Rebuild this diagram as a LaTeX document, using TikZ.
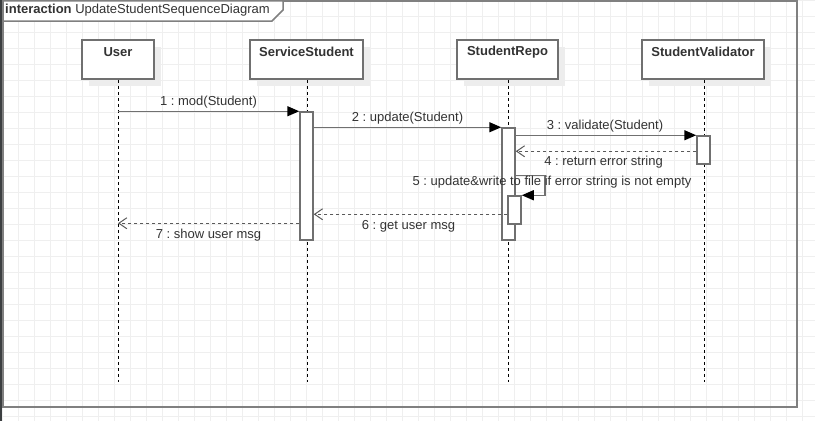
\documentclass[tikz,border=0pt]{standalone}
\usepackage{fontspec}
\setmainfont{Liberation Sans}
\usetikzlibrary{arrows.meta,calc}
\frenchspacing

\definecolor{gridc}{HTML}{EFEFEF}
\definecolor{linec}{HTML}{707070}
\definecolor{replyc}{HTML}{5A5A5A}
\definecolor{framec}{HTML}{808080}
\definecolor{txt}{HTML}{333333}
\definecolor{shadec}{HTML}{EDEDED}
\definecolor{edgec}{HTML}{3C3F41}

\tikzset{
  gridline/.style={draw=gridc, line width=1pt},
  lifebox/.style={draw=linec, line width=1.5pt, fill=white, inner sep=0pt,
    minimum height=39pt},
  boxshadow/.style={fill=shadec, draw=none, inner sep=0pt, minimum height=39pt},
  boxtitle/.style={font=\fontsize{13}{15}\selectfont\bfseries, text=txt, inner sep=0pt},
  lifeline/.style={draw=black, line width=1pt, dash pattern=on 3pt off 3pt},
  activation/.style={draw=linec, line width=1.5pt, fill=white, inner sep=0pt,
    minimum width=13pt},
  msg/.style={draw=linec, line width=1.5pt,
    -{Triangle[length=12pt,width=10pt,fill=black,color=black]}},
  reply/.style={draw=replyc, line width=1.4pt, dash pattern=on 3pt off 3pt,
    -{Straight Barb[length=8pt,width=11pt,line width=1pt]}},
  msglabel/.style={font=\fontsize{13}{15}\selectfont, text=txt, inner sep=0pt},
}

\begin{document}
\begin{tikzpicture}[x=1pt, y=-1pt]
  \useasboundingbox (0,0) rectangle (815,421);
  \fill[white] (0,0) rectangle (815,421);

  % background grid
  \foreach \gx in {2.5,18.5,...,815} {\draw[gridline] (\gx,0) -- (\gx,421);}
  \foreach \gy in {0.5,16.5,...,421} {\draw[gridline] (0,\gy) -- (815,\gy);}

  % window edge
  \fill[edgec] (0,0) rectangle (2,421);

  % interaction frame
  \draw[draw=framec, line width=1.5pt] (3,0.75) rectangle (797,407);
  \draw[draw=framec, line width=1.5pt, fill=white]
    (3,0.75) -- (3,21) -- (272,21) -- (283,10) -- (283,0.75) -- cycle;
  \node[msglabel, anchor=west] (frametitle) at (5,10.5)
    {\textbf{interaction} UpdateStudentSequenceDiagram};

  % lifeline heads (with drop shadows)
  \node[boxshadow, minimum width=72pt]  at (125,66.5)   {};
  \node[boxshadow, minimum width=113pt] at (313.5,66.5) {};
  \node[boxshadow, minimum width=101pt] at (514.5,66.5) {};
  \node[boxshadow, minimum width=122pt] at (710,66.5)   {};

  \node[lifebox, minimum width=72pt]  (user) at (118,59.5)   {};
  \node[lifebox, minimum width=113pt] (svc)  at (306.5,59.5) {};
  \node[lifebox, minimum width=101pt] (repo) at (507.5,59.5) {};
  \node[lifebox, minimum width=122pt] (val)  at (703,59.5)   {};

  \node[boxtitle] (userT) at ($(user.north)+(0,12.5)$) {User};
  \node[boxtitle] (svcT)  at ($(svc.north)+(0,12.5)$)  {ServiceStudent};
  \node[boxtitle] (repoT) at ($(repo.north)+(0,12.5)$) {StudentRepo};
  \node[boxtitle] (valT)  at ($(val.north)+(0,12.5)$)  {StudentValidator};

  % lifelines
  \coordinate (userEnd) at (118,382);
  \coordinate (svcEnd)  at (307,382);
  \coordinate (repoEnd) at (508,382);
  \coordinate (valEnd)  at (704,382);
  \draw[lifeline] (user.south -| userEnd) -- (userEnd);
  \draw[lifeline] (svc.south -| svcEnd)   -- (svcEnd);
  \draw[lifeline] (repo.south -| repoEnd) -- (repoEnd);
  \draw[lifeline] (val.south -| valEnd)   -- (valEnd);

  % activation bars
  \node[activation, minimum height=128pt] (aSvc)   at (306.5,176) {};
  \node[activation, minimum height=112pt] (aRepo)  at (508.5,184) {};
  \node[activation, minimum height=28pt]  (aVal)   at (703.5,150) {};
  \node[activation, minimum height=28pt]  (aRepo2) at (514.5,210) {};

  % 1 : mod(Student)
  \draw[msg] (aSvc.north west -| userEnd) -- (aSvc.north west);
  \node[msglabel] (l1) at (208.5,102) {1 : mod(Student)};

  % 2 : update(Student)
  \draw[msg] (aRepo.north west -| aSvc.east) -- (aRepo.north west);
  \node[msglabel] (l2) at (407.5,118) {2 : update(Student)};

  % 3 : validate(Student)
  \draw[msg] (aVal.north west -| aRepo.east) -- (aVal.north west);
  \node[msglabel] (l3) at (605,126) {3 : validate(Student)};

  % 4 : return error string
  \coordinate (r4) at ($(aVal.north west)+(0,16)$);
  \draw[reply] (r4) -- (r4 -| aRepo.east);
  \node[msglabel] (l4) at (603.5,162) {4 : return error string};

  % 5 : self call
  \coordinate (s5) at ($(aRepo.north east)+(0,48)$);
  \coordinate (c5) at ($(aRepo2.north east)+(23,0)$);
  \draw[msg] (s5) -- (s5 -| c5) -- (c5) -- (aRepo2.north east);
  \node[msglabel] (l5) at (552,182.5) {5 : update\&write to file if error string is not empty};

  % 6 : get user msg
  \coordinate (r6) at ($(aRepo2.north west)+(0,19)$);
  \draw[reply] (r6) -- (r6 -| aSvc.east);
  \node[msglabel] (l6) at (408.5,226.5) {6 : get user msg};

  % 7 : show user msg
  \coordinate (r7) at ($(aSvc.north west)+(0,112)$);
  \draw[reply] (r7) -- (r7 -| userEnd);
  \node[msglabel] (l7) at (208.5,235) {7 : show user msg};
\end{tikzpicture}
\end{document}
